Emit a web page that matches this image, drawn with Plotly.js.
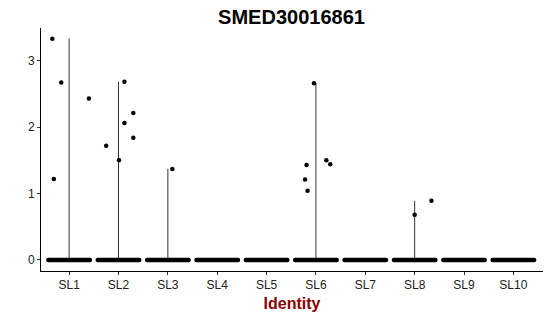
<!DOCTYPE html>
<html>
<head>
<meta charset="utf-8">
<script src="https://cdn.plot.ly/plotly-3.0.1.min.js"></script>
<style>html,body{margin:0;padding:0;background:#fff;}#chart{width:550px;height:316px;}</style>
</head>
<body>
<div id="chart"></div>
<script>
// Categories (identities)
const categories = ['SL1','SL2','SL3','SL4','SL5','SL6','SL7','SL8','SL9','SL10'];
// Non-zero expression points: category index, jitter offset, value
const ptCat    = [0, 0, 0, 0, 1, 1, 1, 1, 1, 1, 2, 5, 5, 5, 5, 5, 5, 7, 7];
const ptJitter = [-0.34, -0.16, 0.40, -0.31, -0.25, 0.12, 0.30, 0.12, 0.30, 0.01, 0.09, -0.04, -0.19, -0.22, -0.17, 0.21, 0.29, 0.00, 0.34];
const ptValue  = [3.33, 2.67, 2.43, 1.22, 1.72, 2.68, 2.21, 2.06, 1.84, 1.50, 1.37, 2.66, 1.43, 1.21, 1.04, 1.50, 1.44, 0.68, 0.89];
// Zero-expression band half-width (jitter spread of the many zero cells)
const zeroSpread = 0.42;
const yTickVals = [0, 1, 2, 3];

const traces = [];
// Violin outlines: thin lines from 0 to max per category
categories.forEach((c, i) => {
  const vals = ptValue.filter((v, k) => ptCat[k] === i);
  if (vals.length) {
    traces.push({x: [i, i], y: [0, Math.max(...vals)], mode: 'lines', type: 'scatter',
      line: {color: '#333', width: 1}, hoverinfo: 'skip', showlegend: false});
  }
});
// Zero bands
categories.forEach((c, i) => {
  traces.push({x: [i - zeroSpread, i + zeroSpread], y: [0, 0], mode: 'lines+markers', type: 'scatter',
    line: {color: '#000', width: 4.5}, marker: {color: '#000', size: 4.5},
    hoverinfo: 'skip', showlegend: false});
});
// Non-zero points
traces.push({x: ptCat.map((c, k) => c + ptJitter[k]), y: ptValue, mode: 'markers', type: 'scatter',
  marker: {color: '#000', size: 4.5}, showlegend: false});

const layout = {
  width: 550, height: 316,
  margin: {l: 41, r: 7, t: 28, b: 45},
  paper_bgcolor: '#fff', plot_bgcolor: '#fff',
  font: {family: 'Liberation Sans, Arial, sans-serif', color: '#000'},
  title: {text: '<b>SMED30016861</b>', x: 0.53, xanchor: 'center', y: 0.945, yanchor: 'middle',
    font: {size: 20, color: '#000', family: 'Liberation Sans, Arial, sans-serif'}},
  xaxis: {range: [-0.57, 9.6], tickvals: categories.map((c, i) => i), ticktext: categories,
    showgrid: false, zeroline: false, showline: true, linecolor: '#000', linewidth: 1,
    ticks: 'outside', ticklen: 3, tickcolor: '#333', tickfont: {size: 12, color: '#222'},
    title: {text: '<b>Identity</b>', standoff: 6, font: {size: 16, color: '#8B0000'}}},
  yaxis: {range: [-0.166, 3.49], tickvals: yTickVals, showgrid: false, zeroline: false,
    showline: true, linecolor: '#000', linewidth: 1, ticks: 'outside', ticklen: 3, tickcolor: '#333',
    tickfont: {size: 12, color: '#222'}},
  showlegend: false
};
Plotly.newPlot('chart', traces, layout, {displayModeBar: false, staticPlot: true});
</script>
</body>
</html>
